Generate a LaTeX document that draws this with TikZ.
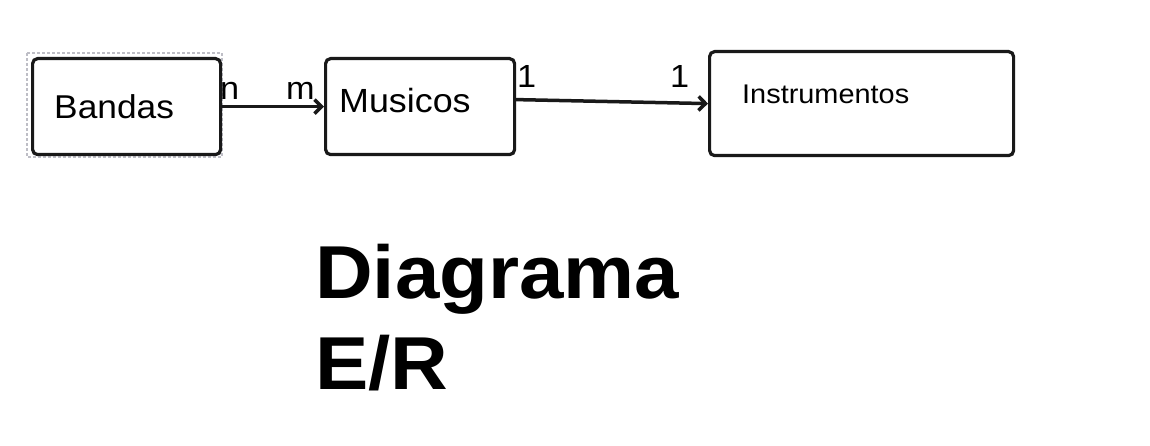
\documentclass[tikz,border=0pt]{standalone}
\usepackage{fontspec}
\setmainfont{Liberation Sans}[FakeStretch=1.07]
\newfontfamily\titlefont{Liberation Sans}[FakeStretch=1.065]
\usetikzlibrary{arrows.meta}
\definecolor{selgray}{RGB}{190,190,198}
\definecolor{ink}{RGB}{25,25,25}
\tikzset{
  entity/.style={draw=ink, line width=3.2pt, rounded corners=5pt, inner sep=0pt, anchor=north west},
  conn/.style={line width=3.5pt, draw=ink, -{Straight Barb[length=7pt,width=14pt]}},
  txt/.style={inner sep=0pt, anchor=base west, font=\fontsize{33}{38}\selectfont},
  card/.style={inner sep=0pt, anchor=base west, font=\fontsize{32}{36}\selectfont},
  sel/.style={draw=selgray, line width=1.4pt, dash pattern=on 3pt off 2pt}
}
\begin{document}
\begin{tikzpicture}[x=1pt,y=-1pt]
\useasboundingbox (0,0) rectangle (1150,446);
\draw[sel] (27,53) rectangle (222,157);
\node[entity, minimum width=188pt, minimum height=96pt] (bandas) at (31,57) {};
\node[entity, minimum width=189pt, minimum height=96pt] (musicos) at (324,57) {};
\node[entity, minimum width=304pt, minimum height=104pt] (instr) at (708,50) {};
\node[txt] (tb) at (54,119) {Bandas};
\node[txt, font=\fontsize{33.5}{38}\selectfont] (tm) at (339,113) {Musicos};
\node[inner sep=0pt, anchor=base west, font=\fontsize{27}{32}\selectfont] (ti) at (742,104) {Instrumentos};
\draw[conn] (bandas.east) -- (musicos.west);
\draw[conn] ([yshift=7pt]musicos.east) -- (instr.west);
\node[card] (cn) at (220,100) {n};
\node[card] (cm) at (286,100) {m};
\node[card] (c1) at (517,88) {1};
\node[card] (c2) at (670,88) {1};
\node[inner sep=0pt, anchor=base west, font=\titlefont\bfseries\fontsize{75}{90}\selectfont] (t1) at (315,298) {Diagrama};
\node[inner sep=0pt, anchor=base west, font=\titlefont\bfseries\fontsize{75}{90}\selectfont] (t2) at (315,389) {E/R};
\end{tikzpicture}
\end{document}
